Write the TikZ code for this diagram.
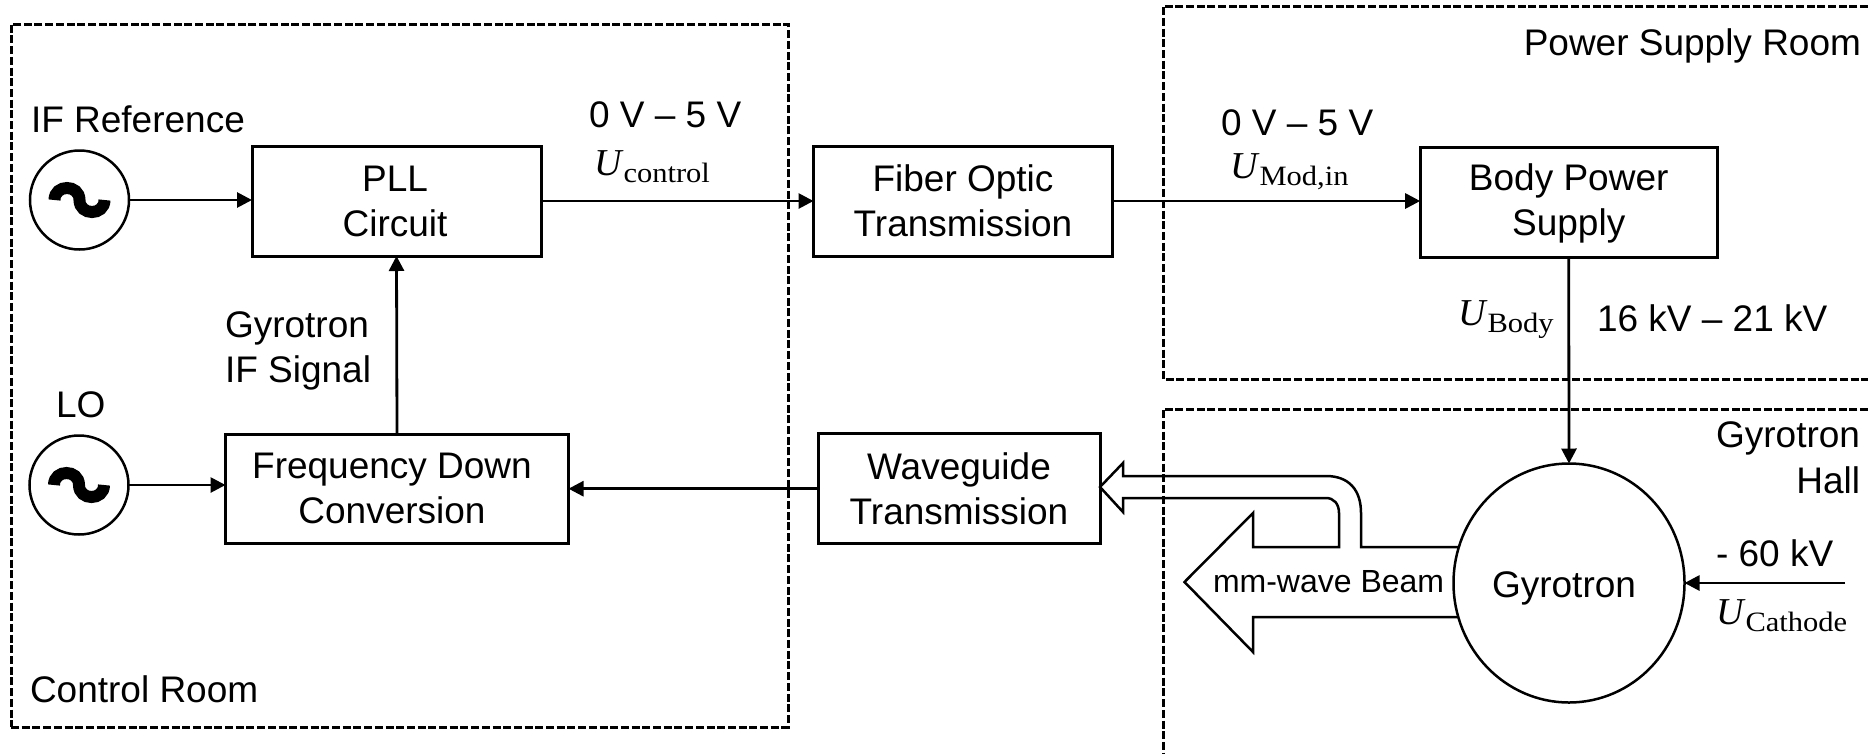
\documentclass[tikz,border=0pt]{standalone}
\usepackage{fontspec}
\setmainfont{Liberation Sans}
\newfontfamily\ufont{Liberation Serif}
\newfontfamily\subfont[FakeStretch=1.09]{Liberation Serif}
\usetikzlibrary{arrows.meta,shapes.geometric}
\newcommand{\volt}[1]{{\ufont\fontsize{38}{45}\selectfont\textit{U}\subfont\fontsize{28}{30}\selectfont\raisebox{-7pt}{#1}}}

\begin{document}
\begin{tikzpicture}[x=1pt, y=-1pt, font=\fontsize{37}{45}\selectfont]
\tikzstyle{every node} = [inner sep=0pt, outer sep=0pt]
\tikzstyle{box} = [draw, line width=3pt, align=center]
\tikzstyle{src} = [circle, draw, line width=2.5pt, minimum size=99pt]
\tikzstyle{txt} = [anchor=base west]
\tikzstyle{room} = [line width=3pt, dash pattern=on 8pt off 2.7pt]
\tikzstyle{conn} = [line width=2.8pt, -{Triangle[length=15pt,width=15pt]}]
\useasboundingbox (0,0) rectangle (1868,753);

% rooms
\node[draw, room, minimum width=777pt, minimum height=703pt] (control) at (399.5,375.5) {};
\draw[room] (1868,6) -- (1163,6) -- (1163,379) -- (1868,379);
\draw[room] (1868,409) -- (1163,409) -- (1163,753);

% blocks
\node[src] (ifref) at (79.5,200) {};
\node[src] (lo) at (79,485) {};
\node[box, minimum width=289pt, minimum height=110pt] (pll) at (396.5,201) {\hspace*{-3pt}PLL\\\hspace*{-3pt}Circuit};
\node[box, minimum width=343pt, minimum height=109pt] (down) at (397,488.5) {\hspace*{-10pt}Frequency Down\\\hspace*{-10pt}Conversion};
\node[box, minimum width=299pt, minimum height=110pt] (fiber) at (963,201) {Fiber Optic\\Transmission};
\node[box, minimum width=282pt, minimum height=110pt] (guide) at (959,488.7) {Waveguide\\Transmission};
\node[box, minimum width=297pt, minimum height=110pt] (body) at (1568.7,202) {Body Power\\\raisebox{0pt}[\height][4pt]{Supply}};
\node[ellipse, draw, line width=2.5pt, minimum width=231pt, minimum height=239pt] (gyro) at (1569,583) {\hspace*{-10pt}\raisebox{-14pt}[0pt][0pt]{Gyrotron}};
\coordinate (cathode) at (1845,583);

% the two sine signs
\foreach \s in {ifref,lo}
\draw[shift={(\s.center)}, line width=12pt] (-25,0) .. controls (-25,-16) and (0,-16) .. (0,0) .. controls (0,16) and (25,16) .. (25,0);

\foreach \from/\to in {ifref/pll, lo/down, pll/fiber, fiber/body}
\draw [conn] (\from) -- (\from -| \to.west);
\draw [conn] (guide) -- (guide -| down.east);
\draw [conn] (down.north) -- (pll.south);
\draw [conn] (body.south) -- (gyro.north);
\draw [conn] (cathode) -- (gyro.east);

% beam
\draw[line width=2.5pt] (1458,547) -- (1361,547) -- (1361,513) .. controls (1361,490) and (1349,476) .. (1326,476) -- (1123,476) -- (1123,463) -- (1100,487) -- (1123,512) -- (1123,498) -- (1326,498) .. controls (1334,498) and (1339,504) .. (1339,513) -- (1339,547) -- (1253,547) -- (1253,513) -- (1184.5,582) -- (1253,652) -- (1253,617) -- (1458,617);

% labels
\node[txt] (l1) at (31,132) {IF Reference};
\node[txt] (l2) at (56,417) {LO};
\node[txt] (l3) at (30,702) {Control Room};
\node[txt] (l4) at (225,337) {Gyrotron};
\node[txt] (l5) at (225,382) {IF Signal};
\node[txt] (l6) at (589,127) {0 V -- 5 V};
\node[txt] (l7) at (1221,135) {0 V -- 5 V};
\node[txt] (l8) at (594,175) {\volt{control}};
\node[txt] (l9) at (1230,178) {\volt{Mod,in}};
\node[txt] (l10) at (1458,325) {\volt{Body}};
\node[txt] (l11) at (1597,331) {16 kV -- 21 kV};
\node[txt, anchor=base east] (l12) at (1861,55) {Power Supply Room};
\node[txt, anchor=base east] (l13) at (1860,447) {Gyrotron};
\node[txt, anchor=base east] (l14) at (1860,493) {Hall};
\node[txt] (l15) at (1716,566) {- 60 kV};
\node[txt] (l16) at (1716,624) {\volt{Cathode}};
\node[txt, font=\fontsize{32}{40}\selectfont] (l17) at (1213,592) {mm-wave Beam};
\end{tikzpicture}
\end{document}
